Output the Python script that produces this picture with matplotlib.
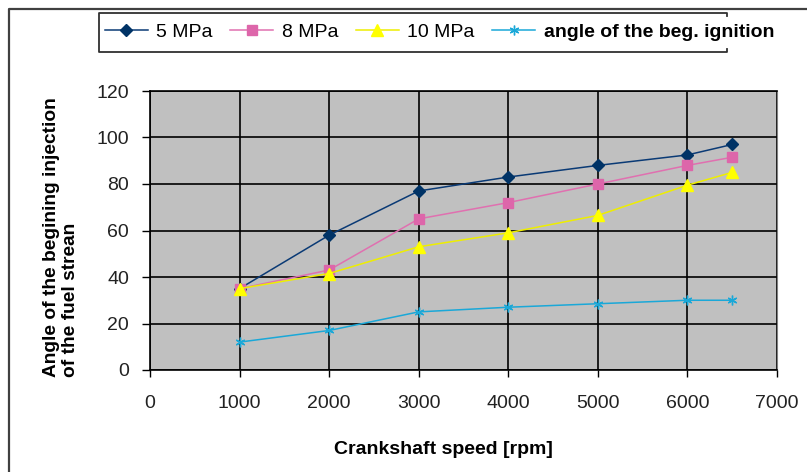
import matplotlib
matplotlib.use("Agg")
import matplotlib.pyplot as plt
from matplotlib.lines import Line2D

plt.rcParams['font.family'] = ['Liberation Sans', 'DejaVu Sans']

# data
speed = [1000, 2000, 3000, 4000, 5000, 6000, 6500]
p5_mpa = [35, 58, 77, 83, 88, 92.5, 97]
p8_mpa = [35, 43, 65, 72, 80, 88, 91.5]
p10_mpa = [35, 41.5, 53, 59, 66.5, 79.5, 85]
ignition = [12, 17, 25, 27, 28.5, 30, 30]

series_labels = ['5 MPa', '8 MPa', '10 MPa', 'angle of the beg. ignition']
x_ticks = [0, 1000, 2000, 3000, 4000, 5000, 6000, 7000]
y_ticks = [0, 20, 40, 60, 80, 100, 120]

W, H = 807, 472


def fx(px):
    return px / W


def fy(py):
    return 1 - py / H


fig = plt.figure(figsize=(W / 100, H / 100), dpi=100)
ax = fig.add_axes([fx(150), fy(370), fx(777) - fx(150), fy(91) - fy(370)])
ax.set_facecolor('#C0C0C0')

ax.plot(speed, p5_mpa, color='#0A3A75', lw=1.1, marker='D', ms=6,
        mfc='#003366', mec='#003366', label=series_labels[0])
ax.plot(speed, p8_mpa, color='#E070B0', lw=1.1, marker='s', ms=7,
        mfc='#DD66AA', mec='#DD66AA', label=series_labels[1])
ax.plot(speed, p10_mpa, color='#EEEE00', lw=1.1, marker='^', ms=8,
        mfc='#FFFF00', mec='#FFFF00', label=series_labels[2])
ax.plot(speed, ignition, color='#1AA8D8', lw=1.1, marker=(6, 2, 0), ms=7,
        mec='#1AA8D8', mew=1.0, label=series_labels[3])

ax.set_xlim(0, 7000)
ax.set_ylim(0, 120)
ax.set_xticks(x_ticks)
ax.set_yticks(y_ticks)
ax.grid(True, color='black', lw=1.2)
ax.set_axisbelow(True)
ax.tick_params(axis='x', direction='out', length=5, width=1, pad=13,
               labelsize=14, labelcolor='#222222')
ax.tick_params(axis='y', direction='out', length=6, width=1, pad=9,
               labelsize=14, labelcolor='#222222')
for s in ['left', 'bottom', 'top']:
    ax.spines[s].set_color('black')
    ax.spines[s].set_linewidth(1.2)
ax.spines['right'].set_color('#808080')

ax.set_xlabel('Crankshaft speed [rpm]', fontsize=14, fontweight='bold')
ax.xaxis.set_label_coords(0.468, -0.255)
fig.text(fx(61), fy(377), 'Angle of the begining injection\nof the fuel strean',
         rotation=90, ha='center', va='bottom', multialignment='left',
         fontsize=13.8, fontweight='bold', linespacing=1.1)

leg = fig.legend(loc='center left', bbox_to_anchor=(fx(99), fy(32)), ncol=4,
                 frameon=False, fontsize=14, handlelength=2.2, handletextpad=0.45,
                 columnspacing=0.9, borderaxespad=0, borderpad=0.3)
leg.get_texts()[3].set_fontweight('bold')
leg.get_texts()[3].set_fontsize(14)

# legend box (right edge hidden behind the text in the original)
box_x = [fx(727), fx(727), fx(99), fx(99), fx(727), fx(727)]
box_y = [fy(16), fy(13), fy(13), fy(52), fy(52), fy(49)]
fig.add_artist(Line2D(box_x, box_y, color='#303030', lw=1.3, transform=fig.transFigure))

# chart border: left and top only
fig.add_artist(Line2D([fx(9), fx(9), fx(807)], [fy(472), fy(9), fy(9)],
                      color='#404040', lw=1.6, transform=fig.transFigure))

fig.savefig('out.png', dpi=100)
